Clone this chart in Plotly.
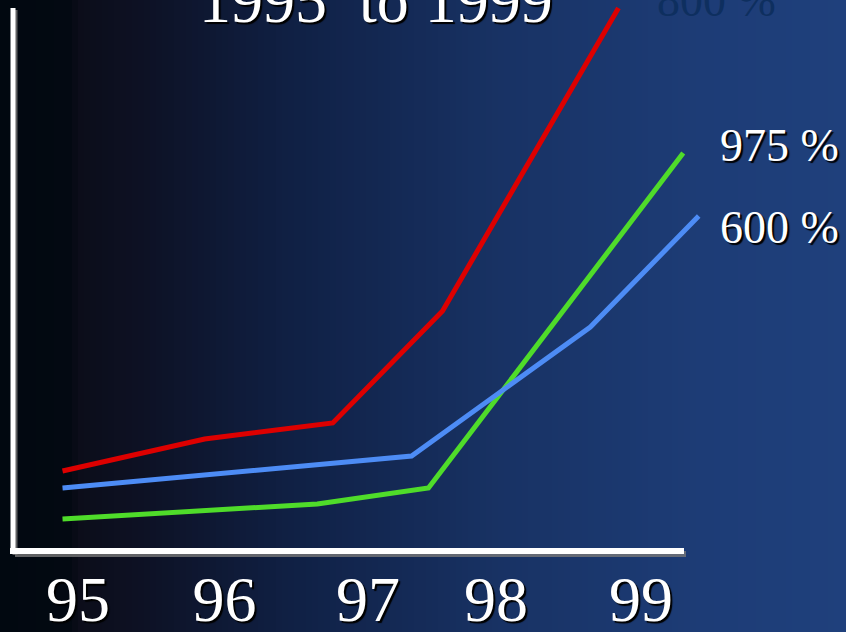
import plotly.graph_objects as go

# ---- data ----
tick_labels = ["95", "96", "97", "98", "99"]
tick_years = [95.0, 96.04, 97.06, 97.97, 99.0]

red_x = [94.89, 95.90, 96.81, 97.59, 98.84]
red_y = [79, 111, 127, 239, 542]

green_x = [94.89, 95.87, 96.70, 97.49, 99.30]
green_y = [31, 39, 46, 62, 397]

blue_x = [94.89, 97.37, 98.64, 99.41]
blue_y = [62, 94, 223, 334]

title_text = "1995  to 1999"
label_red = "800 %"
label_green = "975 %"
label_blue = "600 %"

W, H = 846, 632
SERIF = "Liberation Serif, Times New Roman, serif"
SHADOW = "2px 2px 1px #000000"

fig = go.Figure()

# background gradient as vertical strips
stops = [(0, (1, 8, 16)), (70, (3, 9, 18)), (80, (12, 13, 26)), (150, (13, 18, 38)),
         (300, (16, 33, 70)), (500, (24, 50, 100)), (700, (29, 60, 118)), (846, (31, 64, 124))]

def col_at(px):
    for (a, ca), (b, cb) in zip(stops[:-1], stops[1:]):
        if a <= px <= b:
            t = (px - a) / (b - a)
            return tuple(int(round(ca[i] + (cb[i] - ca[i]) * t)) for i in range(3))
    return stops[-1][1]

shapes = []
step = 6
for px in range(0, W, step):
    c = col_at(px + step / 2)
    shapes.append(dict(type="rect", xref="paper", yref="paper",
                       x0=px / W, x1=min(px + step + 1, W) / W, y0=0, y1=1,
                       fillcolor="rgb(%d,%d,%d)" % c, line=dict(width=0), layer="below"))

# axis lines (with a faint shadow)
def hline(x0, x1, y, color, w):
    return dict(type="line", xref="paper", yref="paper", x0=x0 / W, x1=x1 / W,
                y0=1 - y / H, y1=1 - y / H, line=dict(color=color, width=w), layer="below")

def vline(x, y0, y1, color, w):
    return dict(type="line", xref="paper", yref="paper", x0=x / W, x1=x / W,
                y0=1 - y0 / H, y1=1 - y1 / H, line=dict(color=color, width=w), layer="below")

shapes.append(vline(15, 10, 555, "rgba(120,120,120,0.8)", 5))
shapes.append(hline(15, 686, 554, "rgba(120,120,120,0.8)", 6))
shapes.append(vline(13, 8, 553, "white", 5))
shapes.append(hline(10, 684, 551, "white", 6))

for xs, ys, c in [(red_x, red_y, "#dd0000"), (green_x, green_y, "#4fdc2a"), (blue_x, blue_y, "#4d8cf5")]:
    fig.add_trace(go.Scatter(x=xs, y=ys, mode="lines", line=dict(color=c, width=5),
                             hoverinfo="skip", showlegend=False))

px0 = 78
ppy = 140.75
x_range = [95 - px0 / ppy, 95 + (W - px0) / ppy]

annotations = [
    dict(text=title_text, xref="paper", yref="paper", x=376 / W, y=1.0, xanchor="center",
         yanchor="middle", showarrow=False,
         font=dict(family=SERIF, size=64, color="white", shadow=SHADOW)),
    dict(text=label_red, xref="paper", yref="paper", x=716 / W, y=1.0, xanchor="center",
         yanchor="middle", showarrow=False,
         font=dict(family=SERIF, size=46, color="#0e2f5f")),
    dict(text=label_green, xref="paper", yref="paper", x=718 / W, y=1 - 145 / H, xanchor="left",
         yanchor="middle", showarrow=False,
         font=dict(family=SERIF, size=46, color="white", shadow=SHADOW)),
    dict(text=label_blue, xref="paper", yref="paper", x=718 / W, y=1 - 228 / H, xanchor="left",
         yanchor="middle", showarrow=False,
         font=dict(family=SERIF, size=46, color="white", shadow=SHADOW)),
]

fig.update_layout(
    width=W, height=H,
    margin=dict(l=0, r=0, t=0, b=0),
    paper_bgcolor="#0a1530", plot_bgcolor="rgba(0,0,0,0)",
    shapes=shapes, annotations=annotations,
    xaxis=dict(range=x_range, domain=[0, 1], showgrid=False, zeroline=False, showline=False,
               tickmode="array", tickvals=tick_years, ticktext=tick_labels, ticks="",
               ticklabelstandoff=4, automargin=False,
               tickfont=dict(family=SERIF, size=64, color="white", shadow=SHADOW)),
    yaxis=dict(range=[-2, 550], domain=[80 / H, 1], showgrid=False, zeroline=False,
               showline=False, showticklabels=False, automargin=False),
)

fig.write_html("out.html", config={"displayModeBar": False},
               post_script="document.body.style.margin='0';document.body.style.overflow='hidden';")
